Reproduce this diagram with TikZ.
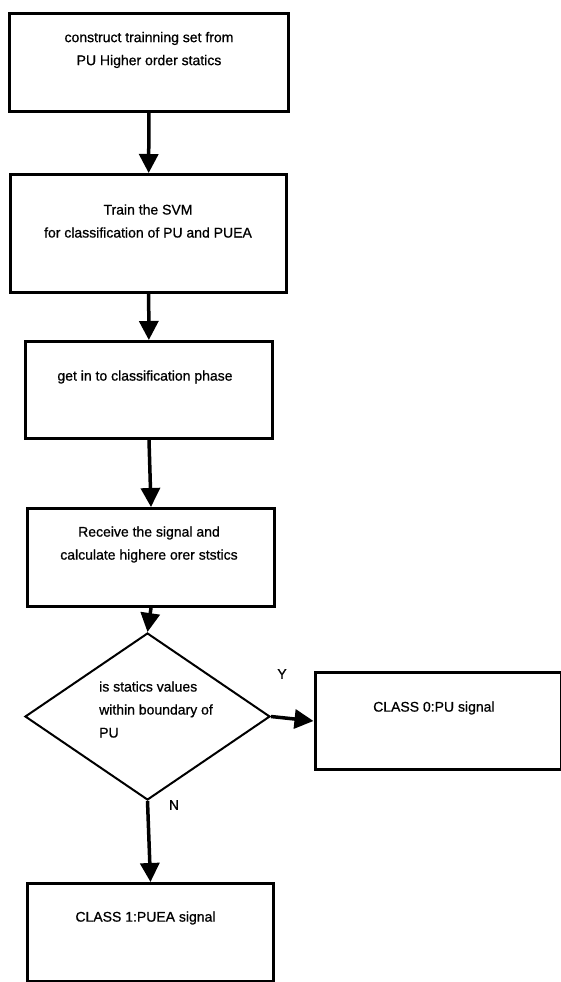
\documentclass[tikz,border=0pt]{standalone}
\usepackage{fontspec}
\setmainfont[FakeBold=0.8]{Liberation Sans}
\usetikzlibrary{shapes.geometric,arrows.meta,positioning}

\begin{document}
\begin{tikzpicture}[x=1pt,y=-1pt,>={Triangle[width=19pt,length=19pt]},
        flowbox/.style={draw,rectangle,line width=3pt,inner sep=0pt},
        flowtext/.style={font=\fontsize{14}{23}\selectfont,align=center,inner sep=0pt},
        flowline/.style={line width=3.5pt,->}]

            % Fixes the size of the whole figure
            \useasboundingbox (0,0) rectangle (561,982);
            \clip (0,0) rectangle (561,982);

            % Draws the boxes of the training part
            \node[flowbox,minimum width=279pt,minimum height=98pt] (hos) at (149,62.5) {};
            \node[flowbox,minimum width=276pt,minimum height=118pt] (svm) at (148.5,233.5) {};
            \node[flowbox,minimum width=247pt,minimum height=97pt] (phase) at (149,390) {};
            \node[flowbox,minimum width=247pt,minimum height=98pt] (receive) at (151,557.5) {};

            % Draws the decision and the two classes
            \node[draw,diamond,line width=2pt,inner sep=0pt,aspect=1.47,
                minimum width=245pt,minimum height=167pt] (decision) at (147.5,716.5) {};
            \node[flowbox,minimum width=246pt,minimum height=97pt] (pu) at (438,721) {};
            \node[flowbox,minimum width=246pt,minimum height=98pt] (puea) at (150.5,932.5) {};

            % Writes the texts inside the boxes
            \node[flowtext] (hostext) at (149,50) {construct trainning set from\\PU Higher order statics};
            \node[flowtext] (svmtext) at (148,221) {Train the SVM\\for classification of PU and PUEA};
            \node[flowtext] (phasetext) at (145,377) {get in to classification phase};
            \node[flowtext] (receivetext) at (149,544.5) {Receive the signal and\\calculate highere orer ststics};
            \node[flowtext,align=left,anchor=west] (decisiontext) at (99,709.5) {is statics values\\within boundary of\\PU};
            \node[flowtext,anchor=west] (putext) at (373,708) {CLASS 0:PU signal};
            \node[flowtext] (pueatext) at (145.5,918) {CLASS 1:PUEA signal};

            % Draws the arrows between the steps
            \draw[flowline] (hos) -- (svm);
            \draw[flowline] (svm) -- (phase);
            \draw[flowline] (phase.south) -- (receive.north);
            \draw[flowline] (receive.south) -- (decision.north);
            \draw[flowline] (decision.east) -- (pu.west);
            \draw[flowline] (decision.south) -- (puea.north);

            % Labels the two answers of the decision
            \node[flowtext] (yes) at (282,674) {Y};
            \node[flowtext] (no) at (174,805) {N};

        \end{tikzpicture}
\end{document}
